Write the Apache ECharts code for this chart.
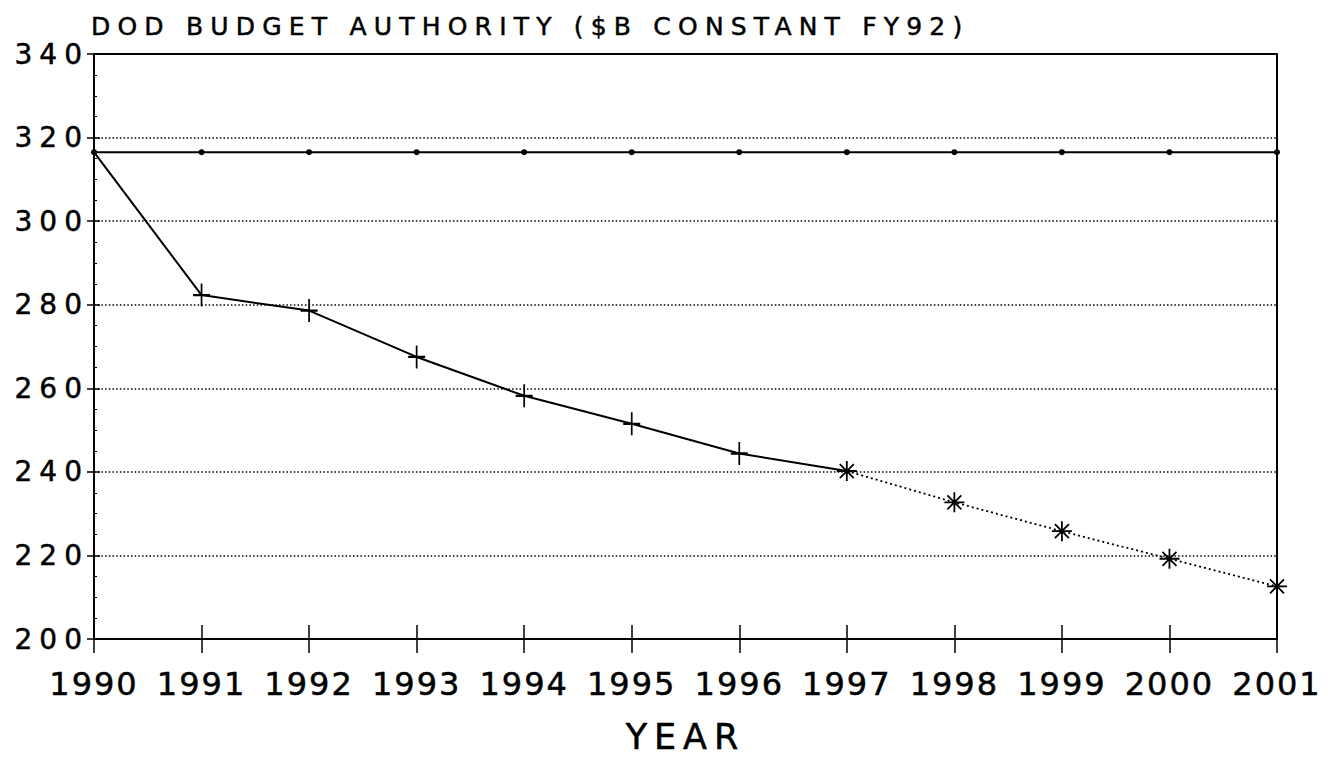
<!DOCTYPE html>
<html>
<head>
<meta charset="utf-8">
<script src="https://cdn.jsdelivr.net/npm/echarts@6/dist/echarts.min.js"></script>
<style>
  html, body { margin: 0; padding: 0; background: #fff; }
  #chart { width: 1328px; height: 760px; }
  /* wide, plotter-style lettering (applies to the SVG text nodes by size) */
  #chart text[style*="25px"] { letter-spacing: 7.2px; }
  #chart text[style*="28px"] { letter-spacing: 7px; }
  #chart text[style*="32px"] { letter-spacing: 2px; }
  #chart text[style*="35px"] { letter-spacing: 7px; }
</style>
</head>
<body>
<div id="chart"></div>
<script>
// Fiscal years on the horizontal axis
const years = ['1990', '1991', '1992', '1993', '1994', '1995', '1996',
               '1997', '1998', '1999', '2000', '2001'];

// Budget authority, $B constant FY92
const heldAtFY90 = [316.5, 316.5, 316.5, 316.5, 316.5, 316.5,
                    316.5, 316.5, 316.5, 316.5, 316.5, 316.5];
const planned = [316.5, 282.3, 278.6, 267.5, 258.2, 251.5, 244.4, 240.2,
                 null, null, null, null];
const extended = [null, null, null, null, null, null, null, 240.2,
                  232.7, 225.8, 219.2, 212.6];

// Value axis range and step
const yMin = 200;
const yMax = 340;
const yStep = 20;

const FONT = 'DejaVu Sans';
const INK = '#000';
// a thin outline thickens the strokes to the heavier plotter weight
const heavy = { textBorderColor: INK, textBorderWidth: 0.5 };

const plusSymbol = 'path://M8,0V22M0,11H16';
const starSymbol = 'path://M10,0V20M0,10H20M3,3L17,17M17,3L3,17';

const chart = echarts.init(document.getElementById('chart'), null, { renderer: 'svg' });

const baseY = { type: 'value', min: yMin, max: yMax, interval: yStep };

chart.setOption({
  animation: false,
  backgroundColor: '#fff',
  title: {
    text: 'DOD BUDGET AUTHORITY ($B CONSTANT FY92)',
    left: 91,
    top: 14,
    padding: 0,
    textStyle: Object.assign({ fontFamily: FONT, fontSize: 25, fontWeight: 'normal', color: INK }, heavy)
  },
  grid: { left: 94, right: 51, top: 54, bottom: 121, containLabel: false },
  xAxis: [
    {
      type: 'category',
      data: years,
      boundaryGap: false,
      position: 'bottom',
      axisLine: { show: true, lineStyle: { color: INK, width: 2 } },
      axisTick: { show: true, inside: false, length: 14, lineStyle: { color: INK, width: 1.5 } },
      axisLabel: Object.assign({ fontFamily: FONT, fontSize: 32, color: INK, margin: 29 }, heavy),
      splitLine: { show: false },
      name: 'YEAR',
      nameLocation: 'middle',
      nameGap: 80,
      nameTextStyle: Object.assign({ fontFamily: FONT, fontSize: 35, color: INK }, heavy)
    },
    {
      type: 'category',
      data: years,
      boundaryGap: false,
      position: 'bottom',
      axisLine: { show: false },
      axisTick: { show: true, inside: true, length: 14, lineStyle: { color: INK, width: 1.5 } },
      axisLabel: { show: false },
      splitLine: { show: false }
    },
    {
      type: 'category',
      data: years,
      boundaryGap: false,
      position: 'top',
      axisLine: { show: true, lineStyle: { color: INK, width: 2 } },
      axisTick: { show: false },
      axisLabel: { show: false },
      splitLine: { show: false }
    }
  ],
  yAxis: [
    Object.assign({}, baseY, {
      position: 'left',
      axisLine: { show: true, lineStyle: { color: INK, width: 2 } },
      axisTick: { show: true, inside: false, length: 7, lineStyle: { color: INK, width: 1.5 } },
      axisLabel: Object.assign({ fontFamily: FONT, fontSize: 28, color: INK, margin: 5 }, heavy),
      splitLine: { show: true, lineStyle: { color: INK, width: 1.5, type: [1.5, 2.2] } }
    }),
    Object.assign({}, baseY, {
      position: 'left',
      axisLine: { show: false },
      axisTick: { show: true, inside: true, length: 6, lineStyle: { color: INK, width: 1.5 } },
      minorTick: { show: true, splitNumber: 4, length: 3, lineStyle: { color: INK, width: 1 } },
      axisLabel: { show: false },
      splitLine: { show: false }
    }),
    Object.assign({}, baseY, {
      position: 'right',
      axisLine: { show: true, lineStyle: { color: INK, width: 2 } },
      axisTick: { show: false },
      axisLabel: { show: false },
      splitLine: { show: false }
    })
  ],
  series: [
    {
      type: 'line',
      data: heldAtFY90,
      symbol: 'circle',
      symbolSize: 6,
      itemStyle: { color: INK },
      lineStyle: { color: INK, width: 2 },
      z: 3
    },
    {
      type: 'line',
      data: planned.map((v, i) => (i === 0 || i === 7) ? { value: v, symbol: 'none' } : v),
      symbol: plusSymbol,
      symbolSize: [17, 23],
      itemStyle: { color: 'transparent', borderColor: INK, borderWidth: 2 },
      lineStyle: { color: INK, width: 2 },
      z: 4
    },
    {
      type: 'line',
      data: extended,
      symbol: starSymbol,
      symbolSize: 20,
      itemStyle: { color: 'transparent', borderColor: INK, borderWidth: 1.8 },
      lineStyle: { color: INK, width: 1.8, type: [2, 3] },
      z: 5
    }
  ]
});
</script>
</body>
</html>
